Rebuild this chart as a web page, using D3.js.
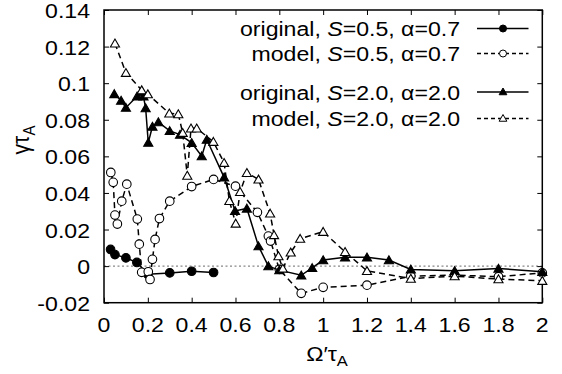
<!DOCTYPE html>
<html><head><meta charset="utf-8">
<script src="https://cdn.jsdelivr.net/npm/d3@7"></script>
<style>body{margin:0;background:#fff}svg{display:block}text{font-family:"Liberation Sans",Arial,sans-serif;fill:#000}</style>
</head><body><svg id="c" width="562" height="374"></svg>
<script>
// Data
const xTicks = [0,0.2,0.4,0.6,0.8,1,1.2,1.4,1.6,1.8,2];
const xTickLabels = ["0","0.2","0.4","0.6","0.8","1","1.2","1.4","1.6","1.8","2"];
const yTicks = [-0.02,0,0.02,0.04,0.06,0.08,0.1,0.12,0.14];
const yTickLabels = ["-0.02","0","0.02","0.04","0.06","0.08","0.1","0.12","0.14"];

const origS05x = [0.03,0.05,0.10,0.15,0.20,0.30,0.40,0.50];
const origS05y = [0.0091,0.0063,0.0045,0.0020,-0.0045,-0.0037,-0.0028,-0.0035];

const modelS05x = [0.031,0.042,0.05,0.061,0.081,0.104,0.152,0.161,0.172,0.202,0.21,0.221,0.233,0.253,0.30,0.40,0.50,0.60,0.70,0.75,0.76,0.80,0.90,1.0,1.2,1.4,1.6,1.8,2.0];
const modelS05y = [0.0512,0.0458,0.0279,0.023,0.0355,0.0448,0.0257,0.012,-0.0034,-0.0031,-0.0073,0.0037,0.0146,0.026,0.0355,0.0435,0.0474,0.0437,0.0294,0.0164,0.0137,-0.0018,-0.0149,-0.0116,-0.0104,-0.0055,-0.0049,-0.0058,-0.0037];

const origS20x = [0.047,0.078,0.10,0.151,0.172,0.18,0.19,0.202,0.221,0.248,0.30,0.347,0.40,0.446,0.469,0.548,0.598,0.652,0.705,0.75,0.80,0.90,0.95,1.0,1.1,1.2,1.3,1.4,1.6,1.8,2.0];
const origS20y = [0.0941,0.0905,0.0866,0.0928,0.0951,0.0928,0.0864,0.0675,0.0763,0.0787,0.0739,0.0719,0.0674,0.0601,0.0692,0.0485,0.0302,0.0315,0.0109,0.0,-0.0022,-0.0050,-0.0010,0.0033,0.0048,0.0048,0.0033,-0.0018,-0.0026,-0.0013,-0.0031];

const modelS20x = [0.05,0.10,0.172,0.20,0.298,0.339,0.359,0.38,0.397,0.423,0.499,0.548,0.572,0.601,0.621,0.652,0.705,0.758,0.776,0.796,0.816,0.852,0.895,1.0,1.1,1.2,1.4,1.6,1.8,2.0];
const modelS20y = [0.1218,0.1057,0.0962,0.094,0.0835,0.0831,0.0729,0.0495,0.0753,0.0753,0.068,0.0565,0.0357,0.0233,0.0406,0.051,0.0474,0.0288,0.017,0.0055,-0.0013,0.0075,0.015,0.0188,0.0078,-0.0026,-0.0068,-0.0055,-0.0071,-0.008];

const legendLabels = [
  ["original, ","S","=0.5, α=0.7"],
  ["model, ","S","=0.5, α=0.7"],
  ["original, ","S","=2.0, α=2.0"],
  ["model, ","S","=2.0, α=2.0"]
];

const series = [
  {x:origS05x, y:origS05y, dash:null, marker:"circle", fill:"#000"},
  {x:modelS05x, y:modelS05y, dash:"6,4", marker:"circle", fill:"#fff"},
  {x:origS20x, y:origS20y, dash:null, marker:"tri", fill:"#000"},
  {x:modelS20x, y:modelS20y, dash:"6,4", marker:"tri", fill:"#fff"}
];

const svg = d3.select("#c");
const L=104, R=542.3, T=10, B=302.7;
const SX = 1.1; // horizontal stretch of the reference lettering
const FS = "21px";
const x = d3.scaleLinear([0,2],[L,R]);
const y = d3.scaleLinear([-0.02,0.14],[B,T]);

// zero line
svg.append("line").attr("x1",L).attr("x2",R).attr("y1",y(0)).attr("y2",y(0))
  .attr("stroke","#888").attr("stroke-width",1.2).attr("stroke-dasharray","2,2.5");

function styleAxis(g){
  g.select(".domain").remove();
  g.selectAll(".tick line").attr("stroke","#000").attr("stroke-width",1);
  g.selectAll(".tick text").remove();
}
svg.append("g").attr("transform",`translate(${L},0)`)
  .call(d3.axisLeft(y).tickValues(yTicks).tickSize(-5)).call(styleAxis);
svg.append("g").attr("transform",`translate(${R},0)`)
  .call(d3.axisRight(y).tickValues(yTicks).tickSize(-5)).call(styleAxis);
svg.append("g").attr("transform",`translate(0,${B})`)
  .call(d3.axisBottom(x).tickValues(xTicks).tickSize(-5)).call(styleAxis);
svg.append("g").attr("transform",`translate(0,${T})`)
  .call(d3.axisTop(x).tickValues(xTicks).tickSize(-5)).call(styleAxis);
svg.append("rect").attr("x",L).attr("y",T).attr("width",R-L).attr("height",B-T)
  .attr("fill","none").attr("stroke","#000").attr("stroke-width",1.5);

// tick labels (stretched like the reference)
svg.append("g").selectAll("text").data(yTicks).join("text")
  .attr("transform",d=>`translate(90,${y(d)+8}) scale(${SX},1)`)
  .attr("text-anchor","end").style("font-size",FS)
  .text((d,i)=>yTickLabels[i]);
svg.append("g").selectAll("text").data(xTicks).join("text")
  .attr("transform",d=>`translate(${x(d)},331.5) scale(${SX},1)`)
  .attr("text-anchor","middle").style("font-size",FS)
  .text((d,i)=>xTickLabels[i]);

const triSym = d3.symbol(d3.symbolTriangle, 36);
function marker(g, type, fill, cx, cy){
  if(type==="circle"){
    g.append("circle").attr("cx",cx).attr("cy",cy).attr("r",4.3)
      .attr("fill",fill).attr("stroke","#000").attr("stroke-width",1.1);
  } else {
    g.append("path").attr("d",triSym()).attr("transform",`translate(${cx},${cy+1})`)
      .attr("fill",fill).attr("stroke","#000").attr("stroke-width",1.1);
  }
}

const line = d3.line().x(d=>x(d[0])).y(d=>y(d[1]));
series.forEach(s=>{
  const pts = s.x.map((v,i)=>[v,s.y[i]]);
  const g = svg.append("g");
  g.append("path").attr("d",line(pts)).attr("fill","none").attr("stroke","#000")
    .attr("stroke-width",1.5).attr("stroke-dasharray",s.dash);
  pts.forEach(p=>marker(g,s.marker,s.fill,x(p[0]),y(p[1])));
});

// legend
const legY = [28.5,53.5,92,118.5];
legendLabels.forEach((lab,i)=>{
  const t = svg.append("text").attr("transform",`translate(460,${legY[i]+7.5}) scale(${SX},1)`)
    .attr("text-anchor","end").style("font-size",FS);
  t.append("tspan").text(lab[0]);
  t.append("tspan").style("font-style","italic").text(lab[1]);
  t.append("tspan").text(lab[2]);
  const s = series[i];
  const lg = svg.append("g");
  lg.append("line").attr("x1",477).attr("x2",528.5).attr("y1",legY[i]).attr("y2",legY[i])
    .attr("stroke","#000").attr("stroke-width",1.5).attr("stroke-dasharray",s.dash?"4,3":null);
  if(s.marker==="circle"){
    lg.append("circle").attr("cx",503).attr("cy",legY[i]).attr("r",3.5).attr("fill",s.fill).attr("stroke","#000").attr("stroke-width",1);
  } else {
    lg.append("path").attr("d",d3.symbol(d3.symbolTriangle,26)()).attr("transform",`translate(503,${legY[i]+0.5})`)
      .attr("fill",s.fill).attr("stroke","#000").attr("stroke-width",1);
  }
});

// axis titles
const xt = svg.append("text").attr("transform",`translate(327,361) scale(${SX},1)`).attr("text-anchor","middle").style("font-size",FS);
xt.append("tspan").text("Ω′τ");
xt.append("tspan").attr("dy",5).style("font-size","15px").text("A");
const yt = svg.append("text").attr("transform","translate(29,140) rotate(-90) scale(1,1.1)").attr("text-anchor","middle").style("font-size",FS);
yt.append("tspan").text("γτ");
yt.append("tspan").attr("dy",5).style("font-size","15px").text("A");
</script></body></html>
